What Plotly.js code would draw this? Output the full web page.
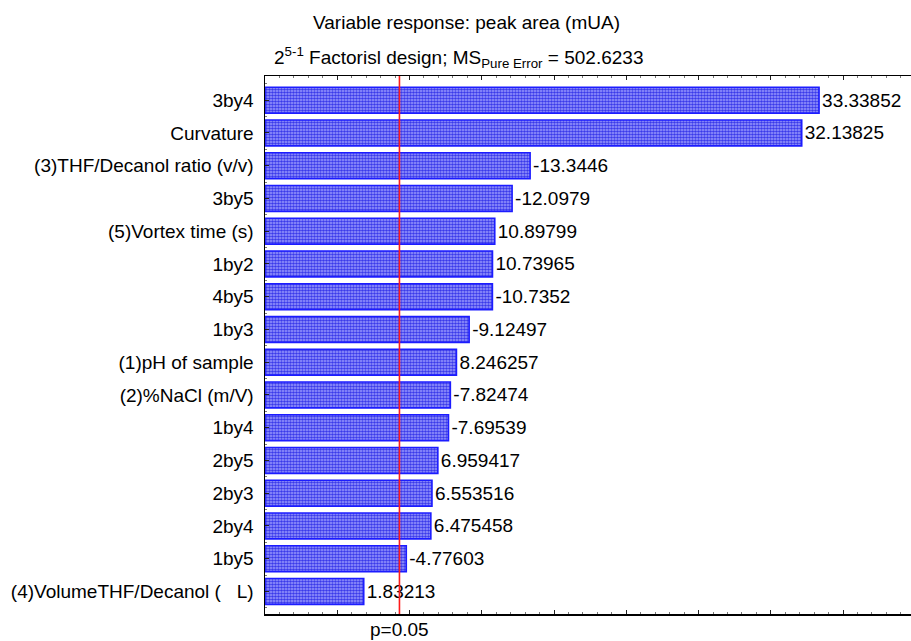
<!DOCTYPE html>
<html>
<head>
<meta charset="utf-8">
<script src="https://cdn.plot.ly/plotly-3.0.1.min.js"></script>
<style>
  html, body { margin: 0; padding: 0; background: #fff; }
  #chart { width: 911px; height: 641px; }
</style>
</head>
<body>
<div id="chart"></div>
<script>
// Pareto chart of standardized effects (top to bottom)
const factors = [
  "3by4",
  "Curvature",
  "(3)THF/Decanol ratio (v/v)",
  "3by5",
  "(5)Vortex time (s)",
  "1by2",
  "4by5",
  "1by3",
  "(1)pH of sample",
  "(2)%NaCl (m/V)",
  "1by4",
  "2by5",
  "2by3",
  "2by4",
  "1by5",
  "(4)VolumeTHF/Decanol (\u00a0\u00a0\u00a0L)"
];
const effects = [
  33.33852, 32.13825, -13.3446, -12.0979, 10.89799, 10.73965, -10.7352, -9.12497,
  8.246257, -7.82474, -7.69539, 6.959417, 6.553516, 6.475458, -4.77603, 1.83213
];
// critical t value at p = 0.05
const tCritical = 4.303;

const axisMin = -5;
const axisMax = 39.7;
const n = factors.length;
const rowPos = factors.map((_, i) => n - 1 - i);

const font = "Liberation Sans, Arial, sans-serif";

const trace = {
  type: "bar",
  orientation: "h",
  y: rowPos,
  base: axisMin,
  x: effects.map(v => Math.abs(v) - axisMin),
  width: 0.79,
  text: effects.map(v => String(v)),
  textposition: "outside",
  cliponaxis: false,
  constraintext: "none",
  textfont: { family: font, size: 19, color: "#000" },
  marker: {
    color: "#7a7af6",
    line: { color: "#1c1cff", width: 1.6 },
    pattern: { shape: ".", bgcolor: "#a0a0ff", fgcolor: "#3a3aea", size: 3, solidity: 0.6 }
  },
  hoverinfo: "none"
};

const layout = {
  width: 911,
  height: 641,
  margin: { l: 265, r: 0, t: 76, b: 27 },
  paper_bgcolor: "#fff",
  plot_bgcolor: "#fff",
  showlegend: false,
  font: { family: font, size: 19, color: "#000" },
  xaxis: {
    range: [axisMin, axisMax],
    showticklabels: false,
    showgrid: false,
    zeroline: false,
    showline: true,
    linecolor: "#000",
    linewidth: 1.5,
    mirror: "ticks",
    ticks: "inside",
    ticklen: 4,
    tickcolor: "#222",
    tick0: 0,
    dtick: 5,
    minor: { ticks: "inside", ticklen: 2, tickcolor: "#777", dtick: 1, showgrid: false }
  },
  yaxis: {
    range: [-0.69, 15.74],
    tickvals: rowPos,
    ticktext: factors,
    showgrid: false,
    zeroline: false,
    showline: true,
    linecolor: "#000",
    linewidth: 1.5,
    ticks: "inside",
    ticklen: 4,
    tickcolor: "#222",
    ticklabelstandoff: 6,
    tickfont: { family: font, size: 19, color: "#000" },
    minor: { ticks: "inside", ticklen: 2, tickcolor: "#777", tick0: 0.5, dtick: 1, showgrid: false }
  },
  shapes: [{
    type: "line",
    xref: "x", yref: "paper",
    x0: tCritical, x1: tCritical, y0: 0, y1: 1,
    line: { color: "#ff1a1a", width: 1.6 }
  }],
  annotations: [
    {
      text: "Variable response: peak area (mUA)",
      xref: "paper", yref: "paper",
      x: (466 - 265) / 646, y: 1 + (76 - 22) / 538,
      xanchor: "center", yanchor: "middle",
      showarrow: false,
      font: { family: font, size: 19, color: "#000" }
    },
    {
      text: "2<sup>5-1</sup> Factorisl design; MS<sub>Pure Error</sub> = 502.6233",
      xref: "paper", yref: "paper",
      x: (458 - 265) / 646, y: 1 + (76 - 57) / 538,
      xanchor: "center", yanchor: "middle",
      showarrow: false,
      font: { family: font, size: 19, color: "#000" }
    },
    {
      text: "p=0.05",
      xref: "x", yref: "paper",
      x: tCritical, y: -(629 - 614) / 538,
      xanchor: "center", yanchor: "middle",
      showarrow: false,
      font: { family: font, size: 19, color: "#000" }
    }
  ]
};

Plotly.newPlot("chart", [trace], layout, { displayModeBar: false, staticPlot: true });
</script>
</body>
</html>
